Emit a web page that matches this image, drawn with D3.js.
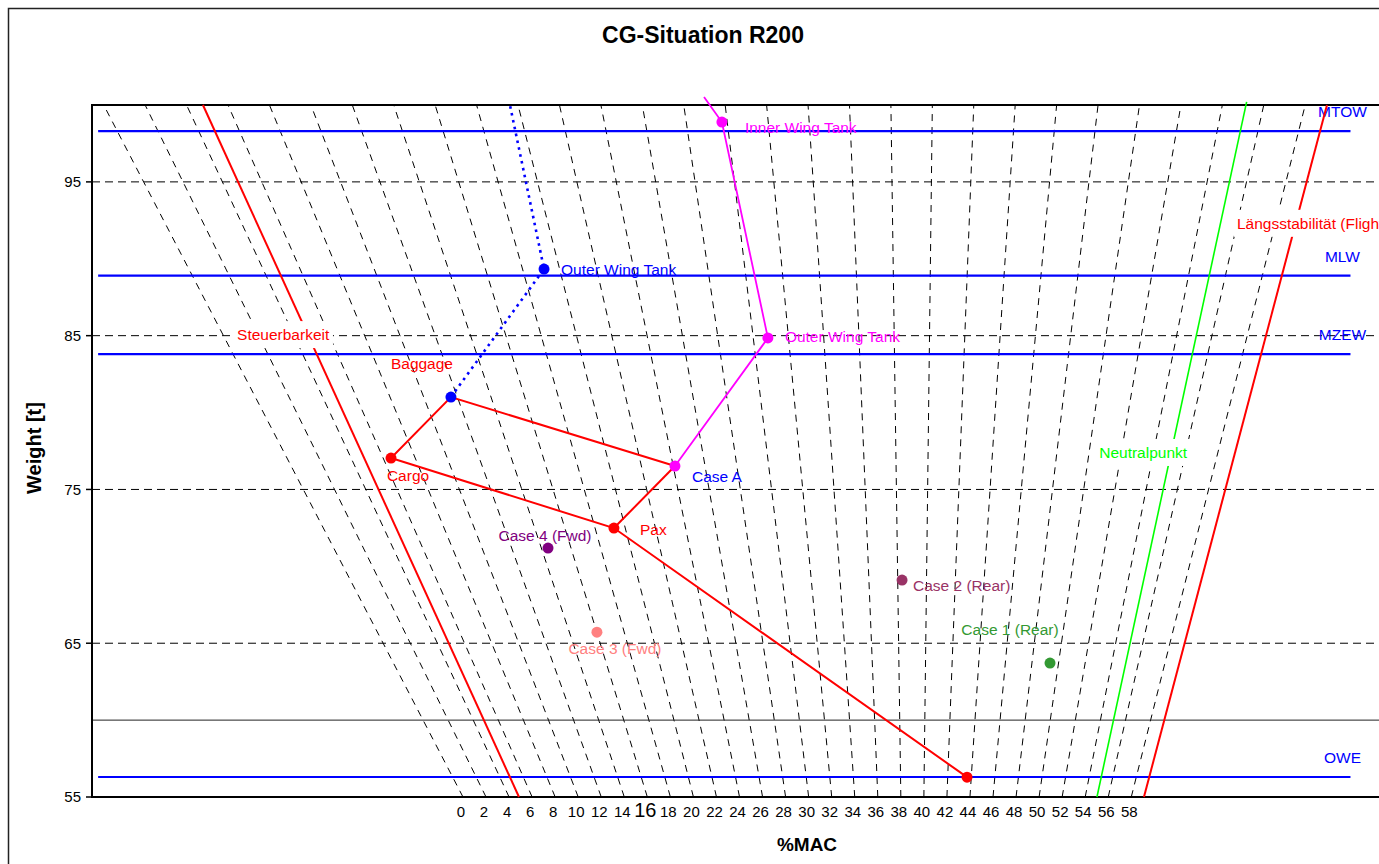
<!DOCTYPE html>
<html>
<head>
<meta charset="utf-8">
<script src="https://cdn.jsdelivr.net/npm/d3@7"></script>
<style>
  body { margin: 0; background: #fff; }
  svg { display: block; }
  text { font-family: "Liberation Sans", Arial, sans-serif; }
</style>
</head>
<body>
<svg id="chart" width="1379" height="864"></svg>
<script>
// ---- data ---------------------------------------------------------------
// constant-%MAC reference lines and their labels along the bottom
const macLines  = [0, 2, 4, 6, 8, 10, 12, 14, 16, 18, 20, 22, 24, 26, 28, 30,
                   32, 34, 36, 38, 40, 42, 44, 46, 48, 50, 52, 54, 56, 58];
const macLabels = ["0", "2", "4", "6", "8", "10", "12", "14", "16", "18", "20",
                   "22", "24", "26", "28", "30", "32", "34", "36", "38", "40",
                   "42", "44", "46", "48", "50", "52", "54", "56", "58"];

// weight axis [t]
const weightTicks = [55, 65, 75, 85, 95];
const weightAxisCross = 60;

// structural weight limits [t]
const limitNames   = ["MTOW", "MLW", "MZEW", "OWE"];
const limitWeights = [98.3, 88.9, 83.8, 56.3];

// loading sequence points (%MAC, t)
const loadNames  = ["OWE", "Pax", "Cargo", "Baggage", "Case A"];
const loadMac    = [43.64, 19.25, 6.49, 11.62, 24.11];
const loadWeight = [56.29, 72.49, 77.04, 81.01, 76.52];
// red loading path drawn as point index sequences
const loadPaths  = [[0, 1, 2, 3, 4], [1, 4]];

// fuel loading from Case A (solid magenta)
const fuelNames  = ["Case A", "Outer Wing Tank", "Inner Wing Tank", ""];
const fuelMac    = [24.11, 30.83, 29.74, 29.03];
const fuelWeight = [76.52, 84.85, 98.89, 100.52];

// alternative fuel loading from Baggage (dotted blue)
const altFuelNames  = ["Baggage", "Outer Wing Tank", ""];
const altFuelMac    = [11.62, 19.16, 19.61];
const altFuelWeight = [81.01, 89.33, 100.0];

// individual check cases
const caseNames  = ["Case 1 (Rear)", "Case 2 (Rear)", "Case 3 (Fwd)", "Case 4 (Fwd)"];
const caseMac    = [49.36, 38.30, 16.01, 14.45];
const caseWeight = [63.71, 69.11, 65.72, 71.19];

// CG limit lines (%MAC at 55 t and at the top)
const fwdLimitMac     = [4.86, 4.79];
const fwdLimitWeight  = [55, 100];
const aftLimitMac     = [59.10, 59.05];
const aftLimitWeight  = [55, 100];
const neutralMac      = [55.02, 55.14];
const neutralWeight   = [55, 100.2];

// ---- layout -------------------------------------------------------------
const svg = d3.select("#chart");
const plot = { left: 92, top: 105, right: 1385, bottom: 797 };

// balance index of a (%MAC, weight) pair
const IDX_W0 = -1.4, IDX_MAC_REF = 39.08;
const index = (mac, w) => (w - IDX_W0) * (mac - IDX_MAC_REF) / 100;

const x = d3.scaleLinear().domain([-40.2, 23.09]).range([plot.left, plot.right]);
const y = d3.scaleLinear().domain([55, 100]).range([plot.bottom, plot.top]);
const px = (mac, w) => x(index(mac, w));

const refLineIndex = [-39.9, 21.4];   // extent of the weight-limit lines

const FONT = 15.5;

// chart area border
svg.append("rect")
  .attr("x", 8.5).attr("y", 8.5).attr("width", 1400).attr("height", 880)
  .attr("fill", "#fff").attr("stroke", "#222").attr("stroke-width", 1.5);

// title
svg.append("text")
  .attr("x", 703).attr("y", 43).attr("text-anchor", "middle")
  .attr("font-size", 23).attr("font-weight", "bold")
  .text("CG-Situation R200");

svg.append("defs").append("clipPath").attr("id", "plotClip")
  .append("rect")
  .attr("x", plot.left).attr("y", plot.top)
  .attr("width", plot.right - plot.left).attr("height", plot.bottom - plot.top);

// horizontal dashed gridlines
svg.append("g").selectAll("line")
  .data(weightTicks.filter(d => d > 55))
  .join("line")
  .attr("x1", plot.left).attr("x2", plot.right)
  .attr("y1", d => y(d)).attr("y2", d => y(d))
  .attr("stroke", "#000").attr("stroke-width", 1)
  .attr("stroke-dasharray", "8,5");

// constant %MAC lines
const line = d3.line().x(d => px(d[0], d[1])).y(d => y(d[1]));
svg.append("g").attr("clip-path", "url(#plotClip)")
  .selectAll("path")
  .data(macLines)
  .join("path")
  .attr("d", m => line([[m, 55], [m, 100]]))
  .attr("fill", "none").attr("stroke", "#000").attr("stroke-width", 1)
  .attr("stroke-dasharray", "7,6");

// horizontal (index) axis crossing at 60 t
svg.append("line")
  .attr("x1", plot.left).attr("x2", plot.right)
  .attr("y1", y(weightAxisCross)).attr("y2", y(weightAxisCross))
  .attr("stroke", "#222").attr("stroke-width", 1);

// plot frame: top, left and bottom edges
svg.append("path")
  .attr("d", `M${plot.right},${plot.top}H${plot.left}V${plot.bottom}H${plot.right}`)
  .attr("fill", "none").attr("stroke", "#000").attr("stroke-width", 2);

// weight axis ticks and labels
const yAxis = svg.append("g");
yAxis.selectAll("line").data(weightTicks).join("line")
  .attr("x1", plot.left - 6).attr("x2", plot.left)
  .attr("y1", d => y(d)).attr("y2", d => y(d))
  .attr("stroke", "#000").attr("stroke-width", 1.5);
yAxis.selectAll("text").data(weightTicks).join("text")
  .attr("x", plot.left - 11).attr("y", d => y(d)).attr("dy", "0.36em")
  .attr("text-anchor", "end").attr("font-size", 15)
  .text(d => d);

svg.append("text")
  .attr("transform", `translate(41,${(plot.top + plot.bottom) / 2 - 3}) rotate(-90)`)
  .attr("text-anchor", "middle").attr("font-size", 20).attr("font-weight", "bold")
  .text("Weight [t]");

// %MAC labels at the foot of each line
svg.append("g").selectAll("text")
  .data(macLines)
  .join("text")
  .attr("x", m => px(m, 55) - 2)
  .attr("y", 817)
  .attr("text-anchor", "middle")
  .attr("font-size", (m, i) => macLabels[i] === "16" ? 20 : 15)
  .text((m, i) => macLabels[i]);

svg.append("text")
  .attr("x", 807).attr("y", 851).attr("text-anchor", "middle")
  .attr("font-size", 19).attr("font-weight", "bold")
  .text("%MAC");

// weight limit lines
const limits = svg.append("g");
limits.selectAll("line").data(limitWeights).join("line")
  .attr("x1", x(refLineIndex[0])).attr("x2", x(refLineIndex[1]))
  .attr("y1", d => y(d)).attr("y2", d => y(d))
  .attr("stroke", "#0000ff").attr("stroke-width", 2.2);
limits.selectAll("text").data(limitWeights).join("text")
  .attr("x", x(refLineIndex[1]) - 8)
  .attr("y", d => y(d) - 14)
  .attr("text-anchor", "middle").attr("font-size", FONT).attr("fill", "#0000ff")
  .text((d, i) => limitNames[i]);

// CG limit lines
function limitLine(macs, weights, color, width) {
  svg.append("path")
    .attr("d", line(macs.map((m, i) => [m, weights[i]])))
    .attr("fill", "none").attr("stroke", color).attr("stroke-width", width);
}
limitLine(fwdLimitMac, fwdLimitWeight, "#ff0000", 2);
limitLine(aftLimitMac, aftLimitWeight, "#ff0000", 2);
limitLine(neutralMac, neutralWeight, "#00ff00", 1.6);

// boxed labels of the limit lines
function boxedLabel(text, cx, cy, color, anchor) {
  const g = svg.append("g");
  const t = g.append("text")
    .attr("x", cx).attr("y", cy).attr("dy", "0.35em")
    .attr("text-anchor", anchor).attr("font-size", FONT).attr("fill", color)
    .text(text);
  const b = t.node().getBBox();
  g.insert("rect", "text")
    .attr("x", b.x - 3).attr("y", b.y - 5).attr("width", b.width + 6).attr("height", b.height + 10)
    .attr("fill", "#fff");
}
boxedLabel("Steuerbarkeit", px(4.8, 85) - 25, y(85) - 1, "#ff0000", "middle");
boxedLabel("Längsstabilität (Flight)", px(59.07, 92.3) - 59, y(92.3), "#ff0000", "start");
boxedLabel("Neutralpunkt", px(55.1, 77.4) - 28, y(77.4), "#00ff00", "middle");

// loading paths
const pts = (macs, ws) => macs.map((m, i) => [m, ws[i]]);
const loadPts = pts(loadMac, loadWeight);
svg.append("g").selectAll("path").data(loadPaths).join("path")
  .attr("d", p => line(p.map(i => loadPts[i])))
  .attr("fill", "none").attr("stroke", "#ff0000").attr("stroke-width", 2);

svg.append("path")
  .attr("d", line(pts(altFuelMac, altFuelWeight)))
  .attr("fill", "none").attr("stroke", "#0000ff").attr("stroke-width", 2.6)
  .attr("stroke-dasharray", "2.6,4.4");

svg.append("path")
  .attr("d", line(pts(fuelMac, fuelWeight)))
  .attr("fill", "none").attr("stroke", "#ff00ff").attr("stroke-width", 1.8);

// markers
function marker(mac, w, color) {
  svg.append("circle")
    .attr("cx", px(mac, w)).attr("cy", y(w)).attr("r", 5.5).attr("fill", color);
}
const loadColors = ["#ff0000", "#ff0000", "#ff0000", "#0000ff", "#ff00ff"];
loadPts.forEach((p, i) => marker(p[0], p[1], loadColors[i]));
marker(altFuelMac[1], altFuelWeight[1], "#0000ff");
marker(fuelMac[1], fuelWeight[1], "#ff00ff");
marker(fuelMac[2], fuelWeight[2], "#ff00ff");

const caseColors = ["#339933", "#993366", "#ff8080", "#800080"];
caseMac.forEach((m, i) => marker(m, caseWeight[i], caseColors[i]));

// point labels
function label(text, mac, w, dx, dy, color, anchor) {
  svg.append("text")
    .attr("x", px(mac, w) + dx).attr("y", y(w) + dy).attr("dy", "0.35em")
    .attr("text-anchor", anchor).attr("font-size", FONT).attr("fill", color)
    .text(text);
}
label(loadNames[1], loadMac[1], loadWeight[1], 26, 2, "#ff0000", "start");
label(loadNames[2], loadMac[2], loadWeight[2], 17, 18, "#ff0000", "middle");
label(loadNames[3], loadMac[3], loadWeight[3], -29, -33, "#ff0000", "middle");
label(loadNames[4], loadMac[4], loadWeight[4], 17, 11, "#0000ff", "start");
label(fuelNames[1], fuelMac[1], fuelWeight[1], 17, -1, "#ff00ff", "start");
label(fuelNames[2], fuelMac[2], fuelWeight[2], 23, 6, "#ff00ff", "start");
label(altFuelNames[1], altFuelMac[1], altFuelWeight[1], 17, 0, "#0000ff", "start");
label(caseNames[0], caseMac[0], caseWeight[0], -40, -33, caseColors[0], "middle");
label(caseNames[1], caseMac[1], caseWeight[1], 11, 6, caseColors[1], "start");
label(caseNames[2], caseMac[2], caseWeight[2], 18, 16, caseColors[2], "middle");
label(caseNames[3], caseMac[3], caseWeight[3], -3, -12, caseColors[3], "middle");
</script>
</body>
</html>
